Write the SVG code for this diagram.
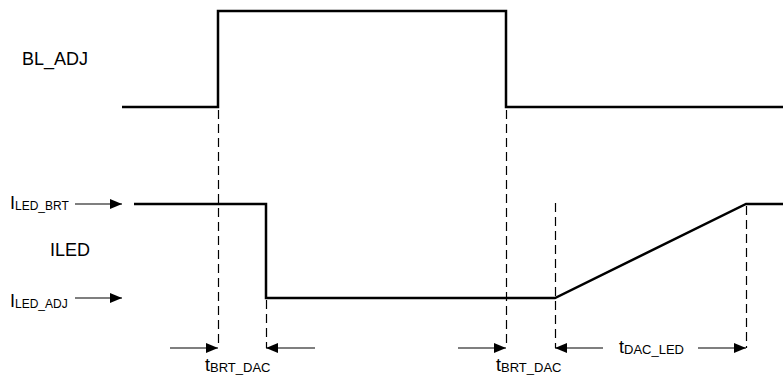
<svg xmlns="http://www.w3.org/2000/svg" width="783" height="377" viewBox="0 0 783 377">
<style>
.sig{fill:none;stroke:#000;stroke-width:2.5;stroke-linejoin:miter}
.dash{fill:none;stroke:#000;stroke-width:1.2;stroke-dasharray:9,5}
.arr{fill:none;stroke:#000;stroke-width:1.2}
text{font-family:"Liberation Sans",Arial,sans-serif;fill:#000}
.lbl{font-size:18px}
.sub{font-size:12px}
.t{font-size:18px}
</style>
<defs>
<marker id="ah" viewBox="0 0 12 10" refX="12" refY="5" markerWidth="12" markerHeight="10" markerUnits="userSpaceOnUse" orient="auto">
<path d="M0,0 L12,5 L0,10 Z" fill="#000"/>
</marker>
</defs>
<rect width="783" height="377" fill="#fff"/>
<g id="connectors">
<line class="dash" x1="218.5" y1="110" x2="218.5" y2="348"/>
<line class="dash" x1="266.5" y1="300" x2="266.5" y2="348"/>
<line class="dash" x1="506.5" y1="110" x2="506.5" y2="348"/>
<line class="dash" x1="555.5" y1="203" x2="555.5" y2="348"/>
<line class="dash" x1="746.5" y1="206" x2="746.5" y2="348"/>
<line class="arr" x1="75" y1="204" x2="122" y2="204" marker-end="url(#ah)"/>
<line class="arr" x1="75" y1="298" x2="122" y2="298" marker-end="url(#ah)"/>
<line class="arr" x1="170" y1="348" x2="218" y2="348" marker-end="url(#ah)"/>
<line class="arr" x1="315" y1="348" x2="266" y2="348" marker-end="url(#ah)"/>
<line class="arr" x1="458" y1="348" x2="506" y2="348" marker-end="url(#ah)"/>
<line class="arr" x1="603" y1="348" x2="555" y2="348" marker-end="url(#ah)"/>
<line class="arr" x1="698" y1="348" x2="746" y2="348" marker-end="url(#ah)"/>
</g>
<g id="bl_adj">
<polyline class="sig" points="122,107 218,107 218,11 506,11 506,107 783,107"/>
<text class="lbl" x="22" y="65">BL_ADJ</text>
</g>
<g id="iled">
<polyline class="sig" points="134,204 266,204 266,298 555,298 746,204 783,204"/>
<text class="lbl" x="50" y="256">ILED</text>
</g>
<g id="iled_brt">
<text x="10" y="209"><tspan class="lbl">I</tspan><tspan class="sub" dy="1">LED_BRT</tspan></text>
</g>
<g id="iled_adj">
<text x="10" y="307"><tspan class="lbl">I</tspan><tspan class="sub" dy="1">LED_ADJ</tspan></text>
</g>
<g id="tbrt1">
<text x="205" y="371"><tspan class="t">t</tspan><tspan class="sub" style="font-size:13px" dy="1">BRT_DAC</tspan></text>
</g>
<g id="tbrt2">
<text x="496" y="371"><tspan class="t">t</tspan><tspan class="sub" style="font-size:13px" dy="1">BRT_DAC</tspan></text>
</g>
<g id="tdac">
<text x="619" y="353"><tspan class="t">t</tspan><tspan class="sub" style="font-size:13px" dy="1">DAC_LED</tspan></text>
</g>
</svg>
